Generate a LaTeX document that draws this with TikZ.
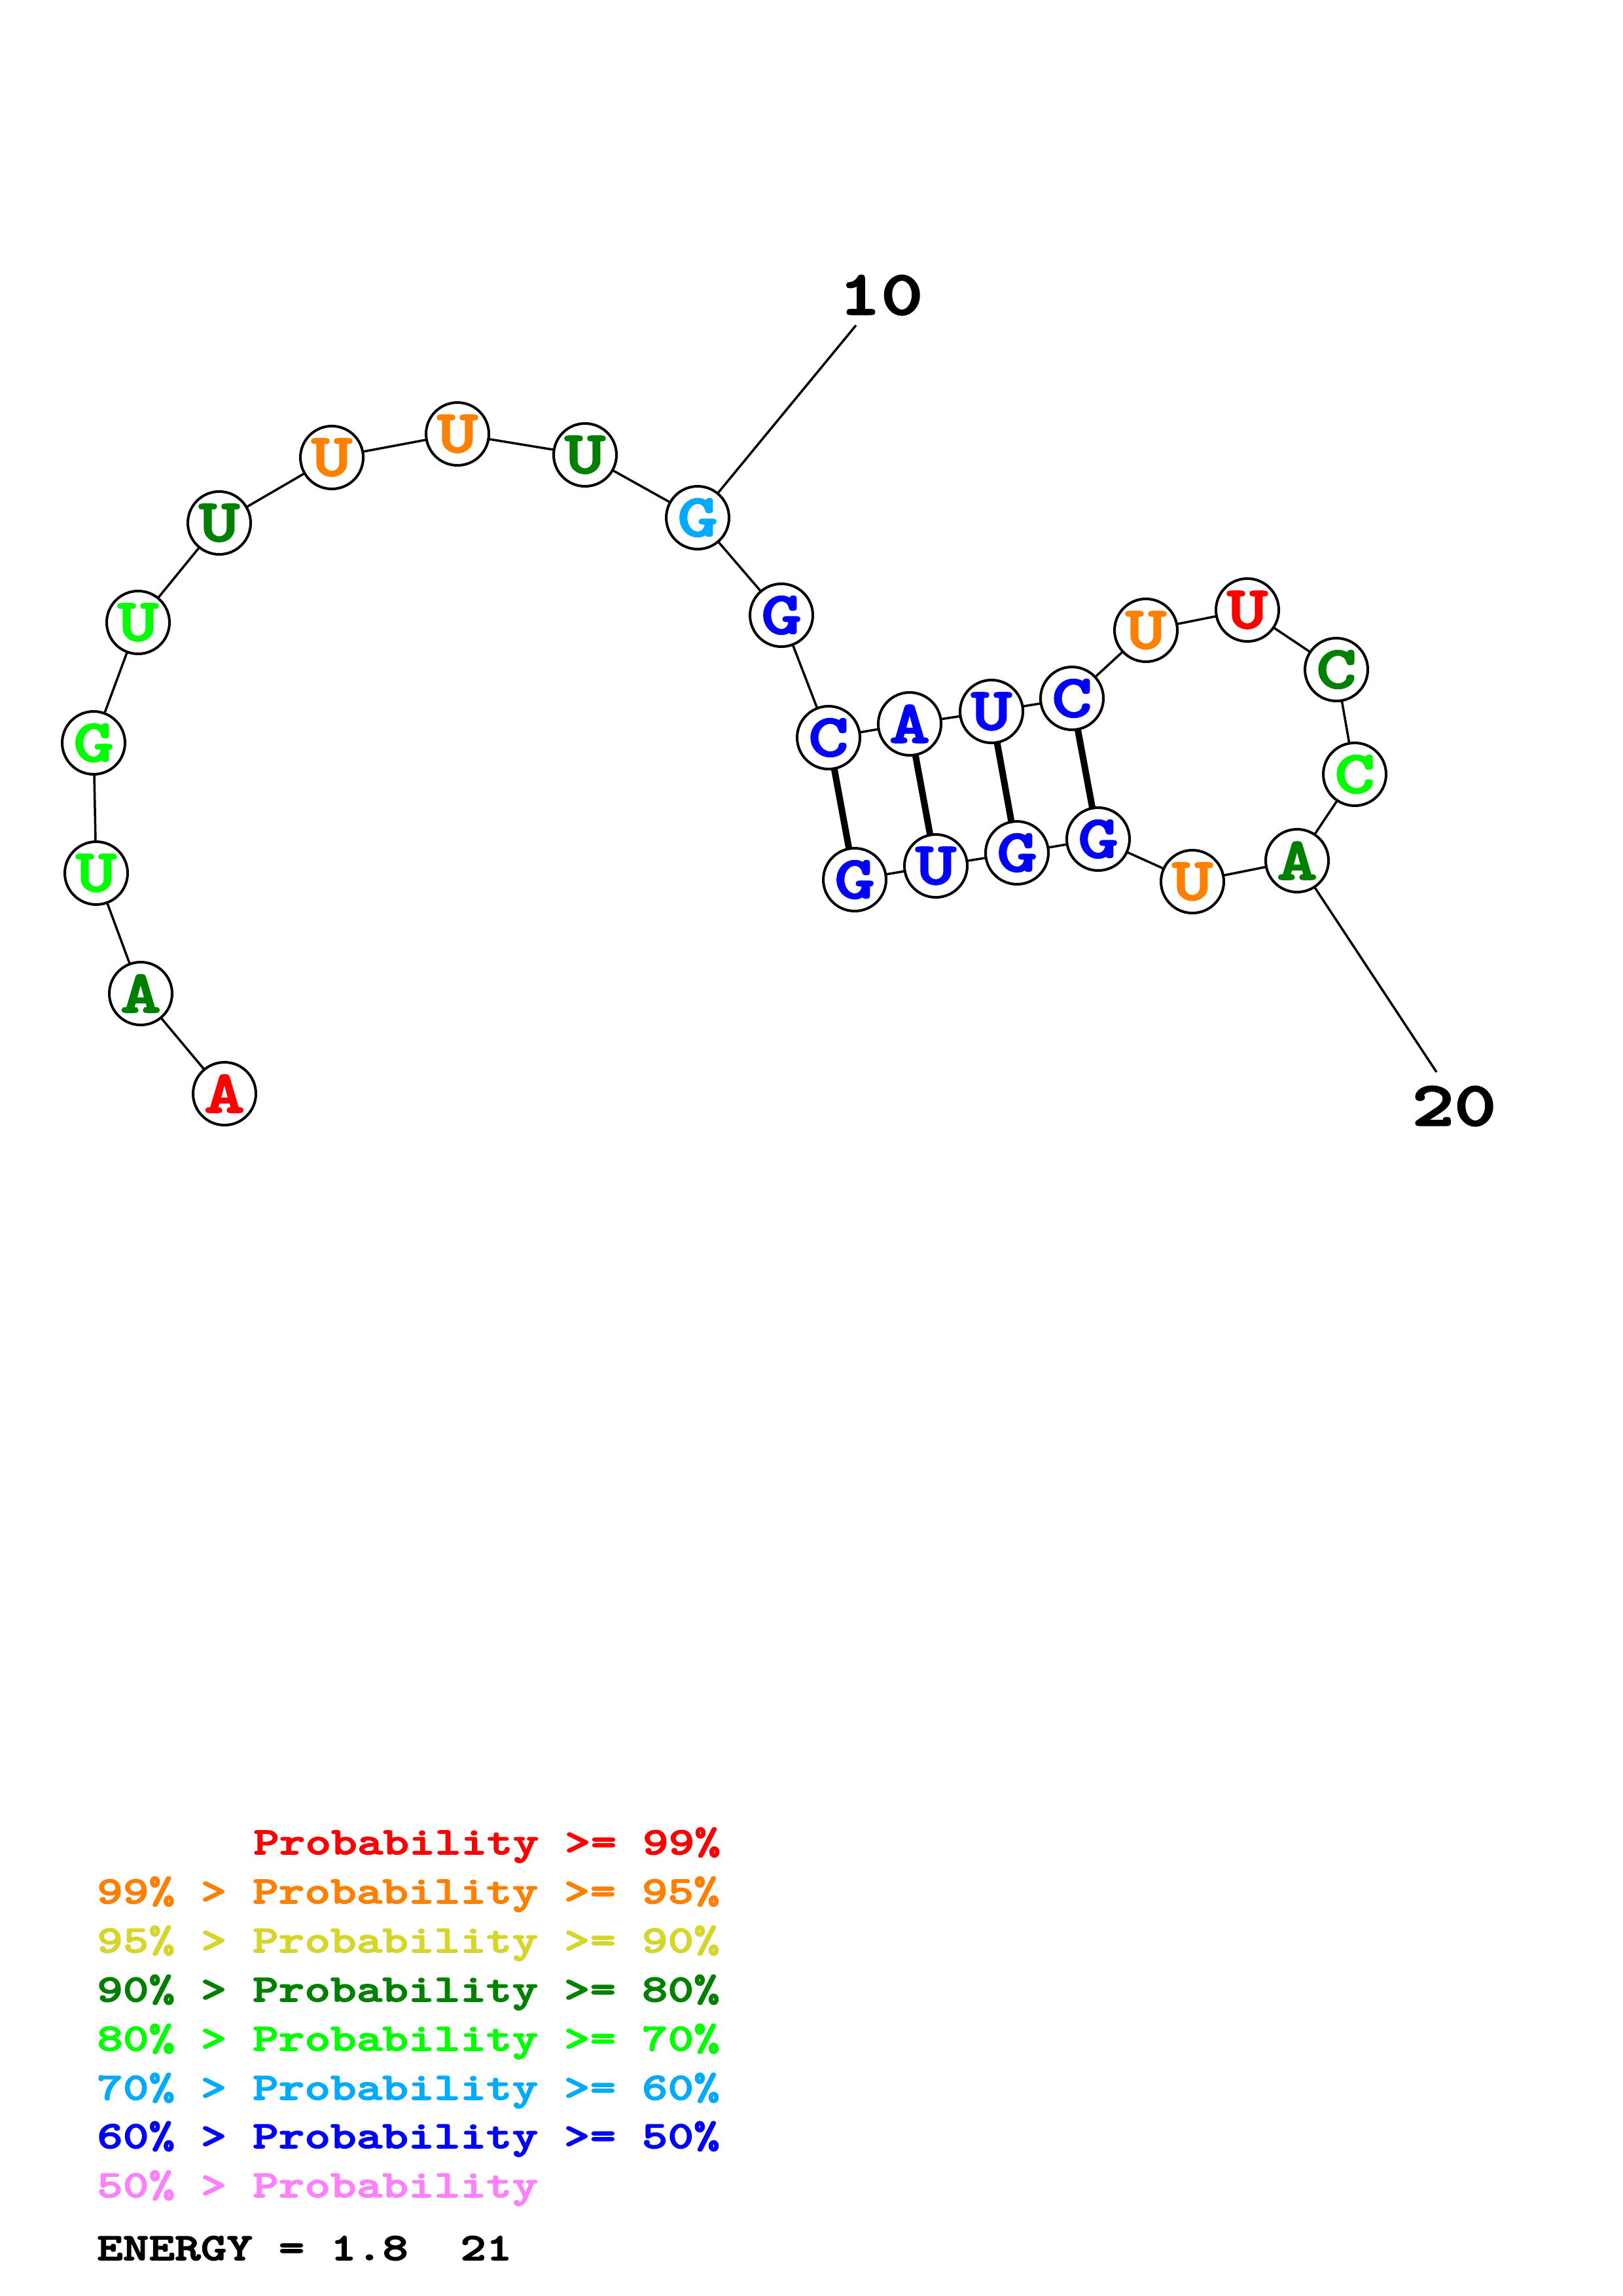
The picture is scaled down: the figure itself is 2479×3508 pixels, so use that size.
\documentclass[tikz,border=0pt]{standalone}
\usepackage{fontspec}
\newfontfamily\cour{lmmonolt10-bold}[Extension=.otf, FakeStretch=1.28, FakeBold=2.5]
\usetikzlibrary{backgrounds}
\definecolor{pred}{RGB}{255,0,0}
\definecolor{porange}{RGB}{255,128,0}
\definecolor{pyellow}{RGB}{213,213,43}
\definecolor{pdkgreen}{RGB}{0,128,0}
\definecolor{pgreen}{RGB}{0,255,0}
\definecolor{pltblue}{RGB}{0,170,255}
\definecolor{pblue}{RGB}{0,0,255}
\definecolor{ppink}{RGB}{255,128,255}
\tikzset{
  base/.style={circle, draw=black, fill=white, line width=4pt, minimum size=96pt, inner sep=0pt,
    font=\cour\fontsize{92}{92}\selectfont},
  backbone/.style={line width=3.5pt, draw=black},
  pairline/.style={line width=10pt, draw=black},
  numlabel/.style={inner sep=0pt, font=\cour\fontsize{96}{96}\selectfont},
  legend/.style={anchor=base west, inner sep=0pt, font=\cour\fontsize{59}{59}\selectfont}
}
\begin{document}
\begin{tikzpicture}[x=1pt,y=-1pt]
\useasboundingbox (0,0) rectangle (2479,3508);
% nucleotides
\node[base, text=pred]     (n1)  at (343,1671) {A};
\node[base, text=pdkgreen] (n2)  at (215,1518) {A};
\node[base, text=pgreen]   (n3)  at (147,1334) {U};
\node[base, text=pgreen]   (n4)  at (143,1135) {G};
\node[base, text=pgreen]   (n5)  at (211,951)  {U};
\node[base, text=pdkgreen] (n6)  at (335,799)  {U};
\node[base, text=porange]  (n7)  at (507,699)  {U};
\node[base, text=porange]  (n8)  at (699,663)  {U};
\node[base, text=pdkgreen] (n9)  at (894,695)  {U};
\node[base, text=pltblue]  (n10) at (1066,791) {G};
\node[base, text=pblue]    (n11) at (1194,940) {G};
\node[base, text=pblue]    (n12) at (1266,1127) {C};
\node[base, text=pblue]    (n13) at (1390,1106) {A};
\node[base, text=pblue]    (n14) at (1515,1087) {U};
\node[base, text=pblue]    (n15) at (1638,1067) {C};
\node[base, text=porange]  (n16) at (1751,963)  {U};
\node[base, text=pred]     (n17) at (1906,932)  {U};
\node[base, text=pdkgreen] (n18) at (2042,1023) {C};
\node[base, text=pgreen]   (n19) at (2070,1183) {C};
\node[base, text=pdkgreen] (n20) at (1982,1315) {A};
\node[base, text=porange]  (n21) at (1822,1347) {U};
\node[base, text=pblue]    (n22) at (1678,1282) {G};
\node[base, text=pblue]    (n23) at (1554,1303) {G};
\node[base, text=pblue]    (n24) at (1430,1323) {U};
\node[base, text=pblue]    (n25) at (1306,1344) {G};
% position labels
\coordinate (e10) at (1308,497);
\coordinate (e20) at (2195,1638);
\node[numlabel] (l10) at (1346,451) {10};
\node[numlabel] (l20) at (2222,1690) {20};
\begin{scope}[on background layer]
  \foreach \a/\b in {1/2,2/3,3/4,4/5,5/6,6/7,7/8,8/9,9/10,10/11,11/12,12/13,13/14,14/15,15/16,16/17,17/18,18/19,19/20,20/21,21/22,22/23,23/24,24/25}
    \draw[backbone] (n\a.center) -- (n\b.center);
  \draw[pairline] (n12.center) -- (n25.center);
  \draw[pairline] (n13.center) -- (n24.center);
  \draw[pairline] (n14.center) -- (n23.center);
  \draw[pairline] (n15.center) -- (n22.center);
  \draw[backbone] (n10.center) -- (e10);
  \draw[backbone] (n20.center) -- (e20);
\end{scope}
% legend
\node[legend, text=pred]     (g1) at (387,2833) {Probability >= 99\%};
\node[legend, text=porange]  (g2) at (148,2908) {99\% > Probability >= 95\%};
\node[legend, text=pyellow]  (g3) at (148,2983) {95\% > Probability >= 90\%};
\node[legend, text=pdkgreen] (g4) at (148,3058) {90\% > Probability >= 80\%};
\node[legend, text=pgreen]   (g5) at (148,3133) {80\% > Probability >= 70\%};
\node[legend, text=pltblue]  (g6) at (148,3208) {70\% > Probability >= 60\%};
\node[legend, text=pblue]    (g7) at (148,3282) {60\% > Probability >= 50\%};
\node[legend, text=ppink]    (g8) at (148,3357) {50\% > Probability};
\node[legend, text=black]    (g9) at (148,3453) {ENERGY = 1.8\ \ 21};
\end{tikzpicture}
\end{document}
